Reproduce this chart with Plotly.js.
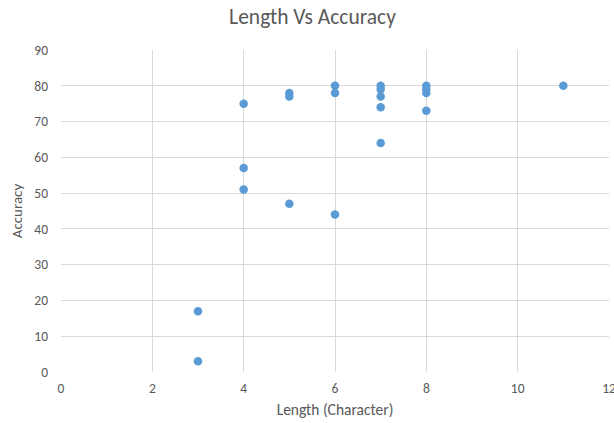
<!DOCTYPE html>
<html>
<head>
<meta charset="utf-8">
<script src="https://cdn.plot.ly/plotly-3.0.1.min.js"></script>
<style>html,body{margin:0;padding:0;background:#fff;overflow:hidden;}#chart{width:614px;height:423px;}</style>
</head>
<body>
<div id="chart"></div>
<script>
// Word length (characters) against recognition accuracy
const lengths = [3, 3, 4, 4, 4, 5, 5, 5, 6, 6, 6, 7, 7, 7, 7, 7, 8, 8, 8, 8, 11];
const accuracy = [17, 3, 75, 57, 51, 78, 77, 47, 80, 78, 44, 80, 79, 77, 74, 64, 80, 79, 78, 73, 80];
const xTicks = [0, 2, 4, 6, 8, 10, 12];
const yTicks = [0, 10, 20, 30, 40, 50, 60, 70, 80, 90];

const font = "Carlito, Calibri, Lato, sans-serif";
const grey = '#595959';
const gridColor = '#d9d9d9';

Plotly.newPlot('chart', [{
  type: 'scatter',
  mode: 'markers',
  x: lengths,
  y: accuracy,
  marker: {color: '#5B9BD5', size: 8.5},
  hoverinfo: 'x+y'
}], {
  width: 614,
  height: 423,
  margin: {l: 61, r: 5.3, t: 49.5, b: 51.3},
  paper_bgcolor: '#fff',
  plot_bgcolor: '#fff',
  showlegend: false,
  title: {text: 'Length Vs Accuracy', font: {family: font, size: 21.5, color: grey}, x: 0.509, xanchor: 'center', y: 0.96, yanchor: 'middle'},
  xaxis: {
    range: [0, 12],
    tickvals: xTicks,
    ticktext: xTicks.map(String),
    showgrid: true, gridcolor: gridColor, gridwidth: 1,
    zeroline: false, showline: false, ticks: '',
    ticklabeloverflow: 'allow',
    ticklabelstandoff: 6,
    tickfont: {family: font, size: 13.5, color: grey},
    title: {text: 'Length (Character)', font: {family: font, size: 15.5, color: grey}, standoff: 8}
  },
  yaxis: {
    range: [0, 90],
    tickvals: yTicks,
    ticktext: yTicks.map(String),
    showgrid: true, gridcolor: gridColor, gridwidth: 1,
    zeroline: false, showline: false, ticks: '',
    tickfont: {family: font, size: 13.5, color: grey},
    ticklabelstandoff: 12,
    title: {text: 'Accuracy', font: {family: font, size: 15, color: grey}, standoff: 8}
  }
}, {displayModeBar: false, staticPlot: true});
</script>
</body>
</html>
